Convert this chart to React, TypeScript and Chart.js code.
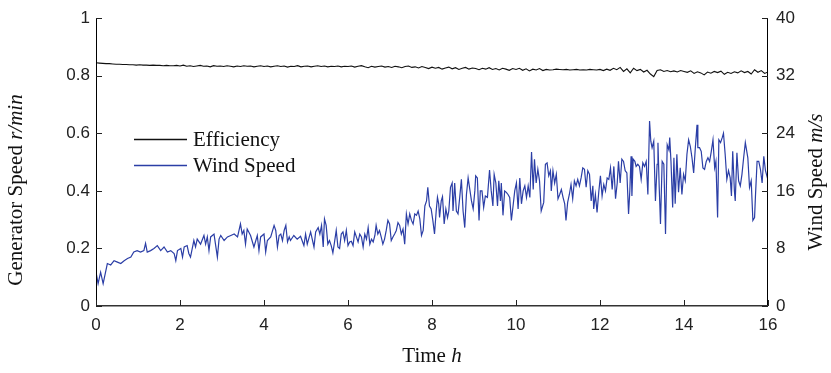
import React, { useEffect, useRef } from 'react';
import { Chart, registerables } from 'chart.js';

Chart.register(...registerables);

// ---------- data ----------
const xTickValues = [0, 2, 4, 6, 8, 10, 12, 14, 16];
const leftTickValues = [0, 0.2, 0.4, 0.6, 0.8, 1];
const rightTickValues = [0, 8, 16, 24, 32, 40];
const seriesLabels = ['Efficiency', 'Wind Speed'];
const axisTitles = {
  x: ['Time ', 'h'],
  left: ['Generator Speed ', 'r/min'],
  right: ['Wind Speed ', 'm/s'],
};

// Efficiency (left axis), evenly spaced over 0..16 h
const efficiency = [
  0.845, 0.844, 0.843, 0.842, 0.842, 0.841, 0.840, 0.840, 0.839, 0.839,
  0.838, 0.838, 0.837, 0.838, 0.837, 0.837, 0.836, 0.837, 0.836, 0.836,
  0.835, 0.836, 0.835, 0.835, 0.836,
  0.834, 0.837, 0.833, 0.835, 0.832, 0.834, 0.836, 0.833, 0.834, 0.831,
  0.835, 0.833, 0.834, 0.832, 0.835, 0.833, 0.831, 0.834, 0.832, 0.835,
  0.833, 0.834, 0.831, 0.833, 0.835,
  0.832, 0.834, 0.831, 0.833, 0.835, 0.832, 0.834, 0.830, 0.833, 0.832,
  0.835, 0.831, 0.833, 0.834, 0.831, 0.833, 0.835, 0.832, 0.834, 0.831,
  0.833, 0.832, 0.834, 0.831, 0.833,
  0.832, 0.834, 0.830, 0.833, 0.835, 0.831, 0.828, 0.833, 0.830, 0.832,
  0.834, 0.830, 0.832, 0.829, 0.833, 0.831, 0.828, 0.832, 0.834, 0.829,
  0.831, 0.827, 0.832, 0.829, 0.825,
  0.830, 0.826, 0.829, 0.823, 0.827, 0.830, 0.824, 0.828, 0.822, 0.826,
  0.829, 0.823, 0.827, 0.825, 0.821, 0.826, 0.823, 0.828, 0.822, 0.825,
  0.820, 0.826, 0.823, 0.819, 0.825,
  0.822, 0.826, 0.819, 0.824, 0.817, 0.823, 0.820, 0.825, 0.818, 0.822,
  0.820, 0.821, 0.823, 0.822, 0.821, 0.822, 0.820, 0.821, 0.822, 0.820,
  0.821, 0.820, 0.822, 0.821, 0.820,
  0.822, 0.818, 0.823, 0.819, 0.826, 0.821, 0.829, 0.815, 0.824, 0.810,
  0.826, 0.818, 0.822, 0.813, 0.819, 0.806, 0.797, 0.818, 0.821, 0.815,
  0.818, 0.814, 0.817, 0.813, 0.818,
  0.815, 0.812, 0.817, 0.808, 0.814, 0.810, 0.803, 0.813, 0.809, 0.815,
  0.811, 0.816, 0.805, 0.812, 0.808, 0.814, 0.810, 0.817, 0.811, 0.815,
  0.806, 0.821, 0.812, 0.818, 0.808,
  0.813,
];

// Wind speed (right axis): sample times (h) and values (m/s)
const windHours = [
  0, 0.05, 0.11, 0.17, 0.27, 0.35, 0.43, 0.51, 0.59, 0.67,
  0.75, 0.83, 0.90, 0.98, 1.06, 1.14, 1.18, 1.22, 1.30, 1.38,
  1.46, 1.54, 1.62, 1.70, 1.78, 1.86, 1.90, 1.94, 2.02, 2.06,
  2.10, 2.17, 2.21, 2.25, 2.33, 2.37, 2.41, 2.49, 2.57, 2.61,
  2.65, 2.69, 2.73, 2.81, 2.89, 2.93, 2.97, 3.05, 3.13, 3.21,
  3.29, 3.37, 3.44, 3.48, 3.52, 3.56, 3.60, 3.68, 3.76, 3.84,
  3.88, 3.92, 4.00, 4.04, 4.08, 4.16, 4.24, 4.28, 4.32, 4.36,
  4.40, 4.44, 4.48, 4.52, 4.56, 4.60, 4.63, 4.71, 4.79, 4.87,
  4.95, 4.99, 5.03, 5.11, 5.19, 5.23,
  5.29, 5.33, 5.37, 5.41, 5.44, 5.48, 5.52, 5.56, 5.60, 5.64,
  5.68, 5.72, 5.76, 5.80, 5.84, 5.88, 5.92, 5.96, 6.00, 6.04,
  6.08, 6.12, 6.16, 6.20, 6.24, 6.28, 6.32, 6.36, 6.40, 6.44,
  6.48, 6.52, 6.56, 6.60, 6.64, 6.67, 6.71, 6.75, 6.79, 6.83,
  6.87, 6.91, 6.95, 6.99, 7.03, 7.07, 7.11, 7.15, 7.19, 7.23,
  7.27, 7.31, 7.35, 7.39, 7.43, 7.47, 7.51, 7.55, 7.59, 7.63,
  7.67, 7.71, 7.75, 7.79, 7.83, 7.87, 7.90, 7.94, 7.98, 8.02,
  8.06, 8.10, 8.13, 8.16, 8.18, 8.22, 8.25, 8.29, 8.33, 8.37,
  8.40, 8.44, 8.48, 8.50, 8.54, 8.58, 8.62, 8.66, 8.70, 8.74,
  8.78, 8.82, 8.86, 8.90, 8.94, 8.98, 9.02, 9.04, 9.08, 9.12,
  9.15, 9.19, 9.23, 9.27, 9.32, 9.37, 9.41, 9.45, 9.48, 9.52,
  9.56, 9.59, 9.63, 9.65, 9.69, 9.73, 9.77, 9.81, 9.85, 9.89,
  9.93, 9.97, 10.01, 10.05, 10.09, 10.13, 10.17, 10.21, 10.25, 10.29,
  10.33, 10.37, 10.41, 10.44, 10.48, 10.52, 10.56, 10.60,
  10.66, 10.70, 10.74, 10.78, 10.82, 10.84, 10.88, 10.92, 10.96, 11.00,
  11.04, 11.08, 11.12, 11.16, 11.19, 11.23, 11.27, 11.31, 11.35, 11.39,
  11.43, 11.47, 11.51, 11.55, 11.59, 11.63, 11.67, 11.71, 11.75, 11.79,
  11.83, 11.85, 11.89, 11.93, 11.97, 12.01, 12.05, 12.09, 12.13, 12.17,
  12.21, 12.25, 12.29, 12.33, 12.37, 12.41, 12.44, 12.48, 12.52, 12.56,
  12.60, 12.64, 12.68, 12.71, 12.74, 12.76, 12.79, 12.83, 12.86, 12.90,
  12.94, 12.98, 13.02, 13.06, 13.10, 13.14, 13.18, 13.21, 13.24, 13.28,
  13.32, 13.36, 13.38, 13.41, 13.44, 13.48, 13.52, 13.56, 13.60, 13.64,
  13.66, 13.69, 13.73, 13.76, 13.79, 13.83, 13.87, 13.91, 13.95, 13.99,
  14.03, 14.07, 14.11, 14.15, 14.19, 14.23, 14.27, 14.31, 14.33, 14.37,
  14.41, 14.45, 14.49, 14.53, 14.57, 14.61, 14.65, 14.69, 14.73, 14.76,
  14.80, 14.83, 14.87, 14.91, 14.94, 14.98, 15.02, 15.06, 15.10, 15.13,
  15.16, 15.20, 15.22, 15.26, 15.30, 15.34, 15.38, 15.42, 15.46, 15.48,
  15.52, 15.56, 15.60, 15.64, 15.68, 15.70, 15.74, 15.78, 15.82, 15.86,
  15.90, 15.94, 16.00,
];

const windSpeed = [
  4.7, 3.1, 4.7, 3.1, 5.9, 5.7, 6.3, 6.1, 5.9, 6.3,
  6.6, 6.8, 7.5, 7.7, 7.5, 7.7, 8.7, 7.5, 7.7, 8.0,
  8.4, 7.7, 8.2, 7.5, 7.7, 7.3, 6.3, 7.7, 8.0, 6.8,
  8.2, 8.4, 7.3, 6.8, 9.1, 8.2, 9.3, 8.6, 9.8, 8.6,
  9.6, 7.7, 9.6, 10.0, 6.8, 9.3, 9.8, 9.1, 9.6, 9.8,
  10.0, 9.6, 11.4, 10.0, 10.5, 8.6, 10.7, 9.8, 8.2, 9.8,
  7.7, 9.6, 10.0, 7.5, 9.1, 9.6, 11.2, 10.5, 8.2, 9.8,
  10.0, 9.1, 10.5, 11.2, 8.9, 9.6, 9.1, 9.8, 9.3, 9.7,
  8.4, 10.0, 8.6, 10.3, 8.2, 10.3,
  10.9, 10.0, 11.2, 8.2, 12.1, 11.2, 8.6, 9.1, 8.4, 7.4,
  8.9, 10.5, 8.2, 8.0, 10.0, 10.3, 9.1, 10.5, 8.4, 8.9,
  9.0, 8.4, 10.3, 9.6, 8.9, 10.0, 9.6, 8.2, 10.0, 9.3,
  10.9, 8.6, 9.3, 8.9, 9.8, 11.2, 10.0, 10.5, 9.6, 8.6,
  9.3, 10.5, 11.9, 11.4, 9.1, 9.6, 10.0, 10.5, 11.6, 11.2,
  10.0, 10.7, 8.6, 12.8, 11.4, 12.8, 11.9, 11.4, 12.8, 12.6,
  13.2, 12.1, 9.8, 10.5, 13.9, 14.6, 16.5, 13.9, 13.5, 11.9,
  10.0, 13.2, 15.1, 14.2, 12.3, 14.6, 15.2, 11.4, 13.5, 12.3,
  13.2, 16.5, 17.1, 13.2, 17.1, 13.2, 12.8, 15.1, 17.6, 13.2,
  10.9, 15.5, 17.8, 16.2, 14.6, 13.5, 16.0, 18.1, 17.8, 11.9,
  16.0, 16.0, 13.7, 15.3, 15.1, 18.9, 16.0, 13.9, 18.3, 17.1,
  13.9, 17.4, 14.6, 17.1, 12.6, 16.0, 15.8, 15.5, 15.1, 11.9,
  13.9, 16.0, 17.1, 13.5, 17.8, 14.2, 16.0, 16.7, 15.1, 16.7,
  15.1, 21.4, 16.2, 20.4, 17.1, 19.0, 17.4, 13.2,
  14.4, 19.7, 19.9, 18.1, 18.8, 16.0, 18.8, 17.1, 18.3, 14.9,
  15.5, 16.2, 15.1, 14.2, 11.9, 14.4, 15.5, 16.9, 14.9, 17.4,
  16.7, 17.6, 16.7, 17.8, 19.2, 19.0, 16.5, 18.8, 18.3, 14.6,
  16.7, 13.5, 15.5, 13.0, 15.8, 18.1, 15.3, 16.9, 16.0, 17.8,
  17.6, 19.2, 16.2, 19.4, 14.9, 17.1, 20.1, 17.1, 20.4, 20.1,
  18.8, 18.5, 12.8, 16.0, 20.8, 15.3, 20.4, 20.1, 19.4, 19.7,
  19.4, 17.6, 19.9, 19.4, 20.1, 15.5, 25.7, 22.9, 22.0, 22.9,
  14.6, 19.7, 22.7, 16.5, 11.4, 20.1, 19.7, 10.0, 22.4, 21.7,
  23.4, 20.1, 13.7, 20.6, 14.2, 21.1, 15.8, 19.2, 15.5, 18.3,
  17.4, 21.1, 23.1, 22.2, 20.6, 18.5, 22.0, 25.2, 22.0, 22.0,
  21.5, 19.2, 19.0, 20.1, 20.6, 20.1, 21.5, 23.1, 19.2, 20.1,
  12.3, 23.1, 22.7, 23.4, 24.0, 21.1, 17.6, 18.8, 17.8, 15.3,
  21.5, 16.0, 14.6, 21.3, 17.4, 16.7, 18.3, 20.6, 22.7, 22.0,
  20.6, 16.5, 17.4, 11.9, 12.3, 15.1, 20.1, 20.1, 19.0, 17.1,
  20.8, 18.8, 17.5,
];

const colors = { efficiency: '#111111', wind: '#2b3ea6', axis: '#000000', tickText: '#222222' };
const sansFamily = "'Liberation Sans', Arial, sans-serif";
const serifFamily = "'Liberation Serif', 'Times New Roman', serif";

function drawMixed(ctx: CanvasRenderingContext2D, parts: string[], cx: number, cy: number, size: number) {
  ctx.font = `${size}px ${serifFamily}`;
  const w0 = ctx.measureText(parts[0]).width;
  ctx.font = `italic ${size}px ${serifFamily}`;
  const w1 = ctx.measureText(parts[1]).width;
  const start = cx - (w0 + w1) / 2;
  ctx.textBaseline = 'middle';
  ctx.textAlign = 'left';
  ctx.font = `${size}px ${serifFamily}`;
  ctx.fillText(parts[0], start, cy);
  ctx.font = `italic ${size}px ${serifFamily}`;
  ctx.fillText(parts[1], start + w0, cy);
}

const framePlugin = {
  id: 'matlabFrame',
  afterDatasetsDraw(chart: any) {
    const { ctx, chartArea: a, scales } = chart;
    ctx.save();
    // axis lines
    ctx.strokeStyle = colors.axis;
    ctx.lineWidth = 1;
    ctx.beginPath();
    ctx.moveTo(a.left + 0.5, a.top);
    ctx.lineTo(a.left + 0.5, a.bottom);
    ctx.moveTo(a.right - 0.5, a.top);
    ctx.lineTo(a.right - 0.5, a.bottom);
    ctx.stroke();
    ctx.strokeStyle = '#333333';
    ctx.lineWidth = 1.5;
    ctx.beginPath();
    ctx.moveTo(a.left, a.bottom - 0.25);
    ctx.lineTo(a.right, a.bottom - 0.25);
    ctx.stroke();
    // inward ticks
    ctx.strokeStyle = '#222222';
    ctx.lineWidth = 1;
    ctx.beginPath();
    leftTickValues.forEach((v) => {
      const y = Math.round(scales.y.getPixelForValue(v)) + 0.5;
      ctx.moveTo(a.left, y);
      ctx.lineTo(a.left + 6, y);
    });
    rightTickValues.forEach((v) => {
      const y = Math.round(scales.y1.getPixelForValue(v)) + 0.5;
      ctx.moveTo(a.right, y);
      ctx.lineTo(a.right - 6, y);
    });
    xTickValues.forEach((v) => {
      const x = Math.round(scales.x.getPixelForValue(v)) + 0.5;
      ctx.moveTo(x, a.bottom);
      ctx.lineTo(x, a.bottom - 6);
    });
    ctx.stroke();

    // axis titles
    ctx.fillStyle = '#111111';
    drawMixed(ctx, axisTitles.x, (a.left + a.right) / 2, 356, 21);
    ctx.save();
    ctx.translate(16, 190);
    ctx.rotate(-Math.PI / 2);
    drawMixed(ctx, axisTitles.left, 0, 0, 21);
    ctx.restore();
    ctx.save();
    ctx.translate(816, 182);
    ctx.rotate(-Math.PI / 2);
    drawMixed(ctx, axisTitles.right, 0, 0, 21);
    ctx.restore();

    // legend
    const legendColors = [colors.efficiency, colors.wind];
    const rows = [139, 165];
    seriesLabels.forEach((label, i) => {
      ctx.strokeStyle = legendColors[i];
      ctx.lineWidth = 1.3;
      ctx.beginPath();
      ctx.moveTo(134, rows[i] + 0.5);
      ctx.lineTo(187, rows[i] + 0.5);
      ctx.stroke();
      ctx.fillStyle = '#111111';
      ctx.font = `21px ${serifFamily}`;
      ctx.textAlign = 'left';
      ctx.textBaseline = 'middle';
      ctx.fillText(label, 193, rows[i] + 1);
    });
    ctx.restore();
  },
};

const tickLabel = (v: any) => `${Number(v)}`;

export default function App() {
  const canvasRef = useRef<HTMLCanvasElement | null>(null);

  useEffect(() => {
    document.body.style.margin = '0';
    const canvas = canvasRef.current;
    if (!canvas) return;
    const effData = efficiency.map((v, i) => ({ x: (i * 16) / (efficiency.length - 1), y: v }));
    const windData = windHours.map((t, i) => ({ x: t, y: windSpeed[i] }));

    const chart = new Chart(canvas, {
      type: 'line',
      data: {
        datasets: [
          {
            label: seriesLabels[1],
            data: windData,
            yAxisID: 'y1',
            borderColor: colors.wind,
            borderWidth: 1.2,
            pointRadius: 0,
            tension: 0,
            fill: false,
          },
          {
            label: seriesLabels[0],
            data: effData,
            yAxisID: 'y',
            borderColor: colors.efficiency,
            borderWidth: 1.1,
            pointRadius: 0,
            tension: 0,
            fill: false,
          },
        ],
      },
      options: {
        responsive: false,
        animation: false,
        devicePixelRatio: 1,
        layout: { padding: { top: 16, left: 0, right: 0, bottom: 0 } },
        plugins: { legend: { display: false }, tooltip: { enabled: false } },
        scales: {
          x: {
            type: 'linear',
            min: 0,
            max: 16,
            afterBuildTicks: (s: any) => { s.ticks = xTickValues.map((v) => ({ value: v })); },
            afterFit: (s: any) => { s.height = 67; },
            grid: { display: false, drawTicks: false },
            border: { display: false },
            ticks: { padding: 9, color: colors.tickText, font: { family: sansFamily, size: 17 }, maxRotation: 0, callback: tickLabel },
          },
          y: {
            type: 'linear',
            position: 'left',
            min: 0,
            max: 1,
            afterBuildTicks: (s: any) => { s.ticks = leftTickValues.map((v) => ({ value: v })); },
            afterFit: (s: any) => { s.width = 96; },
            grid: { display: false, drawTicks: false },
            border: { display: false },
            ticks: { padding: 6, color: colors.tickText, font: { family: sansFamily, size: 17 }, callback: tickLabel },
          },
          y1: {
            type: 'linear',
            position: 'right',
            min: 0,
            max: 40,
            afterBuildTicks: (s: any) => { s.ticks = rightTickValues.map((v) => ({ value: v })); },
            afterFit: (s: any) => { s.width = 63; },
            grid: { display: false, drawTicks: false },
            border: { display: false },
            ticks: { padding: 8, color: colors.tickText, font: { family: sansFamily, size: 17 }, callback: tickLabel },
          },
        },
      },
      plugins: [framePlugin],
    });
    return () => chart.destroy();
  }, []);

  return (
    <div style={{ width: 831, height: 373 }}>
      <canvas ref={canvasRef} width={831} height={373} style={{ display: 'block' }} />
    </div>
  );
}
